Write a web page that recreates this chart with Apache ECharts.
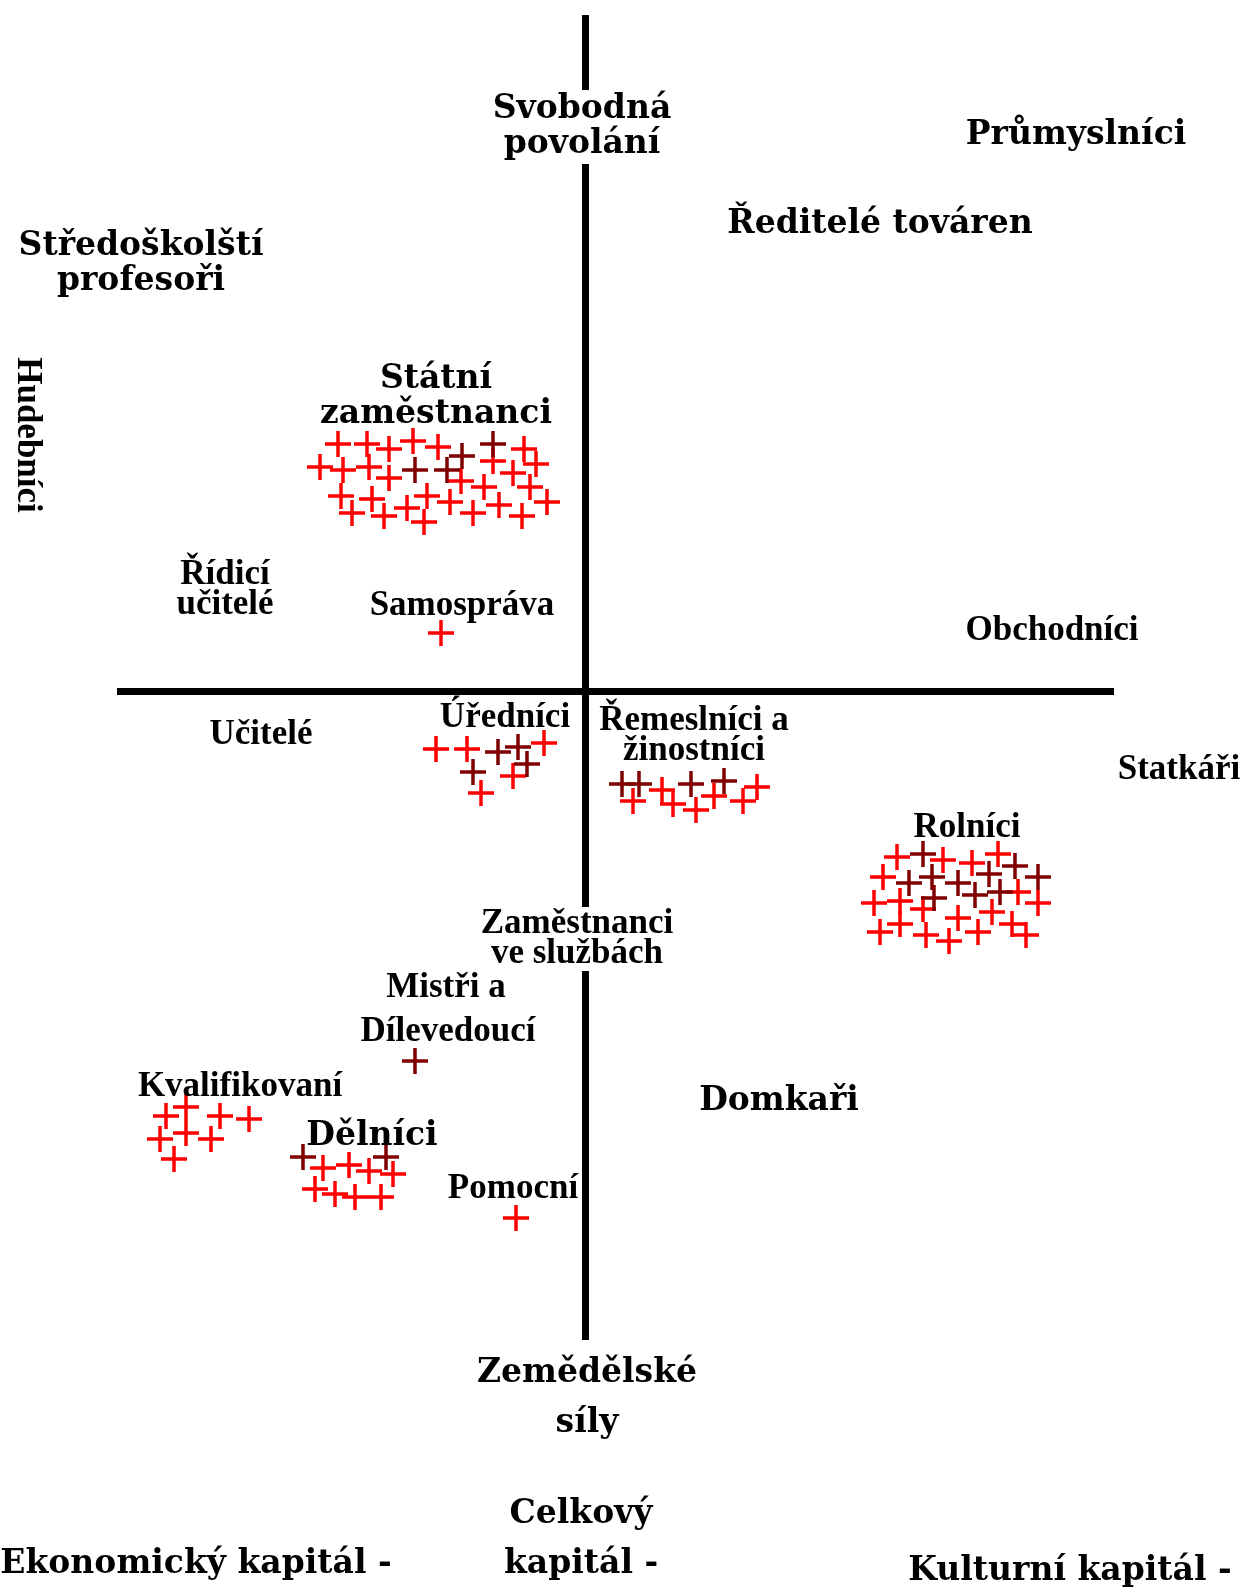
<!DOCTYPE html>
<html>
<head>
<meta charset="utf-8">
<script src="https://cdn.jsdelivr.net/npm/echarts@6/dist/echarts.min.js"></script>
<style>
html, body { margin: 0; padding: 0; background: #fff; }
#main { width: 1245px; height: 1589px; }
</style>
</head>
<body>
<div id="main"></div>
<script>
// Positions in map units, origin at the cross of the two axes.

// Crosses, light red
const statniRed = [
    [-24.7, 24.7], [-21.8, 24.7], [-19.6, 24.2], [-17.2, 25.0], [-14.7, 24.4], [-6.1, 24.2],
    [-26.5, 22.4], [-24.2, 22.1], [-21.6, 22.4], [-9.2, 23.0], [-4.9, 22.7],
    [-19.6, 21.3], [-12.4, 21.0], [-7.2, 21.8], [-10.1, 20.4], [-5.5, 20.4],
    [-24.4, 19.5], [-21.3, 19.2], [-15.8, 19.5], [-17.8, 18.3], [-13.5, 18.9], [-8.6, 18.6], [-3.8, 18.9],
    [-23.3, 17.8], [-20.1, 17.5], [-16.1, 16.9], [-11.2, 17.8], [-6.3, 17.5]
];
const statniDark = [[-12.3, 23.5], [-9.2, 24.7], [-17.0, 22.1], [-13.8, 22.1]];

const samospravaRed = [[-14.4, 5.8]];

const urednikRed = [[-14.9, -5.8], [-11.8, -5.8], [-4.1, -5.2], [-7.2, -8.5], [-10.4, -10.2]];
const urednikDark = [[-8.7, -6.1], [-6.7, -5.6], [-11.2, -8.1], [-5.8, -7.3]];

const remeslnikRed = [[4.8, -11.0], [7.7, -9.9], [8.8, -11.3], [11.1, -11.9], [12.9, -10.5], [15.8, -11.0], [17.2, -9.6]];
const remeslnikDark = [[3.7, -9.3], [5.4, -9.3], [10.6, -9.3], [13.9, -9.0]];

const rolnikRed = [
    [31.2, -16.6], [35.8, -16.9], [38.7, -17.2], [41.3, -16.3], [29.8, -18.6],
    [43.3, -20.1], [28.9, -21.2], [31.5, -21.0], [33.8, -21.8], [45.3, -21.2],
    [37.3, -22.7], [40.7, -22.1], [29.5, -24.1], [31.5, -23.3], [34.1, -24.4],
    [36.4, -25.0], [39.3, -24.1], [42.7, -23.3], [44.1, -24.4]
];
const rolnikDark = [
    [33.8, -16.3], [43.0, -17.5], [32.4, -19.2], [34.7, -18.6], [37.3, -19.2],
    [40.4, -18.3], [45.3, -18.6], [34.9, -20.7], [39.0, -20.4], [41.5, -20.1]
];

const mistrDark = [[-17.0, -37.0]];

const kvalifikovanyRed = [[-41.9, -42.5], [-39.9, -41.6], [-36.5, -42.5], [-33.6, -42.8], [-42.5, -44.8], [-39.9, -44.2], [-37.4, -44.8], [-41.1, -46.8]];

const delnikRed = [[-26.2, -47.7], [-23.6, -47.4], [-21.6, -48.0], [-19.2, -48.3], [-27.0, -49.8], [-25.0, -50.3], [-23.0, -50.6], [-20.4, -50.6]];
const delnikDark = [[-28.2, -46.6], [-19.9, -46.6]];

const pomocnyRed = [[-6.9, -52.7]];

// Big labels
const bigLabels = [
    'Svobodná\npovolání', 'Průmyslníci', 'Ředitelé továren', 'Středoškolští\nprofesoři',
    'Státní\nzaměstnanci', 'Dělníci', 'Domkaři', 'Zemědělské\nsíly',
    'Celkový\nkapitál -', 'Ekonomický kapitál -', 'Kulturní kapitál -'
];
const bigLabelPos = [
    [-0.3, 56.4], [49.1, 55.6], [29.5, 46.7], [-44.4, 42.7],
    [-14.9, 29.4], [-21.3, -44.5], [19.4, -41.0], [0.2, -70.7],
    [-0.4, -84.8], [-38.9, -87.3], [48.5, -88.0]
];

// Smaller labels
const smallLabels = [
    'Hudebníci', 'Řídicí\nučitelé', 'Samospráva', 'Obchodníci', 'Učitelé', 'Úředníci',
    'Řemeslníci a\nžinostníci', 'Statkáři', 'Rolníci', 'Zaměstnanci\nve službách',
    'Mistři a', 'Dílevedoucí', 'Kvalifikovaní', 'Pomocní'
];
const smallLabelPos = [
    [-55.8, 25.6], [-36.0, 10.1], [-12.3, 8.5], [46.7, 6.0], [-32.4, -4.4], [-8.0, -2.7],
    [10.9, -4.5], [59.4, -7.9], [38.2, -13.7], [-0.8, -24.8],
    [-13.9, -29.7], [-13.7, -34.1], [-34.5, -39.6], [-7.2, -49.8]
];


const crossPath = 'path://M11.25,0H14.75V11.25H26V14.75H14.75V26H11.25V14.75H0V11.25H11.25Z';

function crossSeries(points, color){
    return {
        type: 'scatter',
        data: points,
        symbol: crossPath,
        symbolSize: 26,
        itemStyle: { color: color, opacity: 1 },
        silent: true,
        z: 3
    };
}

function labelSeries(names, pos, font, size, lineH, z){
    let data = [];
    for (let i = 0; i < names.length; i++){
        let item = { value: pos[i], name: names[i] };
        //The two labels that sit on the vertical axis hide the line behind them.
        if (names[i] === 'Svobodná\npovolání' || names[i] === 'Zaměstnanci\nve službách'){
            item.label = { backgroundColor: '#fff', padding: [2, 4] };
        }
        if (names[i] === 'Hudebníci'){
            item.label = { rotate: -90 };
        }
        if (names[i] === 'Zemědělské\nsíly' || names[i] === 'Celkový\nkapitál -'){
            item.label = { lineHeight: 50 };
        }
        data.push(item);
    }
    return {
        type: 'scatter',
        data: data,
        symbolSize: 1,
        itemStyle: { color: 'rgba(0,0,0,0)', opacity: 1 },
        clip: false,
        silent: true,
        z: z,
        label: {
            show: true,
            position: 'inside',
            formatter: '{b}',
            color: '#000',
            textBorderWidth: 0,
            fontFamily: font,
            fontWeight: 'bold',
            fontSize: size,
            lineHeight: lineH,
            align: 'center',
            verticalAlign: 'middle'
        },
        labelLayout: { hideOverlap: false }
    };
}

let chart = echarts.init(document.getElementById('main'), null, { renderer: 'canvas' });

chart.setOption({
    backgroundColor: '#fff',
    animation: false,
    grid: { left: 117, right: 131, top: 15, bottom: 249 },
    xAxis: {
        type: 'value',
        min: -46.8,
        max: 52.9,
        axisLine: { show: true, onZero: true, lineStyle: { color: '#000', width: 7, cap: 'butt' } },
        axisTick: { show: false },
        axisLabel: { show: false },
        splitLine: { show: false }
    },
    yAxis: {
        type: 'value',
        min: -64.9,
        max: 67.6,
        axisLine: { show: true, onZero: true, lineStyle: { color: '#000', width: 7, cap: 'butt' } },
        axisTick: { show: false },
        axisLabel: { show: false },
        splitLine: { show: false }
    },
    series: [
        crossSeries([].concat(statniRed, samospravaRed, urednikRed, remeslnikRed, rolnikRed,
            kvalifikovanyRed, delnikRed, pomocnyRed), '#ff0000'),
        crossSeries([].concat(statniDark, urednikDark, remeslnikDark, rolnikDark, mistrDark, delnikDark), '#800000'),
        labelSeries(bigLabels, bigLabelPos, "'DejaVu Serif', serif", 33, 35, 5),
        labelSeries(smallLabels, smallLabelPos, "'Liberation Serif', serif", 35, 30, 5)
    ]
});

window.addEventListener('resize', function(){ chart.resize(); });
</script>
</body>
</html>
